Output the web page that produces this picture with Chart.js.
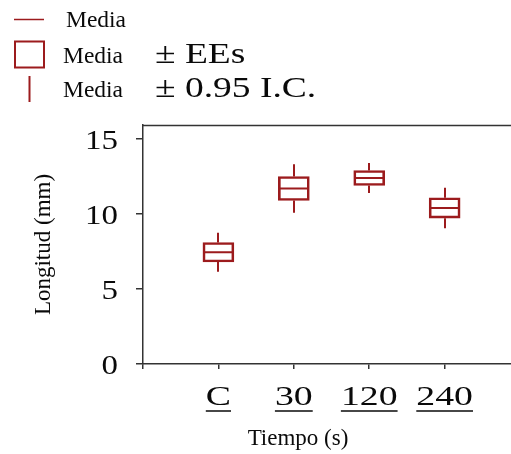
<!DOCTYPE html>
<html>
<head>
<meta charset="utf-8">
<script src="https://cdn.jsdelivr.net/npm/chart.js@4.4.1/dist/chart.umd.min.js"></script>
<style>
  html, body { margin: 0; padding: 0; background: #fff; }
  canvas { display: block; }
</style>
</head>
<body>
<canvas id="chart" width="511" height="454"></canvas>
<script>
const categories = ["C", "30", "120", "240"]
const medias = [7.45, 11.7, 12.4, 10.4]
const errEstandar = [0.65, 0.8, 0.5, 0.68]
const intConfianza = [1.3, 1.62, 1.0, 1.35]
const yTicks = [0, 5, 10, 15]

const ROJO = "#9c1b1d"
const TINTA = "#0a0a0a"
const EJE = "#333333"
const SERIF = "'Liberation Serif', 'Times New Roman', serif"

// text drawn a little wider than the font, like the original figure
function stretchedText(ctx, text, x, y, size, sx, align) {
  ctx.save()
  ctx.font = size + "px " + SERIF
  ctx.textBaseline = "alphabetic"
  const w = ctx.measureText(text).width * sx
  let left = x
  if (align === "center") left = x - w / 2
  if (align === "right") left = x - w
  ctx.translate(left, y)
  ctx.scale(sx, 1)
  ctx.textAlign = "left"
  ctx.fillText(text, 0, 0)
  ctx.restore()
  return { left: left, width: w }
}

const boxPlugin = {
  id: "boxExtras",
  afterDatasetsDraw(chart) {
    const ctx = chart.ctx
    const x = chart.scales.x
    const y = chart.scales.y
    const half = 31 / 2

    ctx.save()
    ctx.strokeStyle = ROJO
    ctx.lineWidth = 2
    categories.forEach((c, i) => {
      const px = Math.round(x.getPixelForValue(i + 1))
      const m = medias[i], ee = errEstandar[i], ic = intConfianza[i]
      ctx.beginPath()
      // whiskers: mean +/- 0.95 CI
      ctx.moveTo(px, y.getPixelForValue(m + ic))
      ctx.lineTo(px, y.getPixelForValue(m + ee))
      ctx.moveTo(px, y.getPixelForValue(m - ee))
      ctx.lineTo(px, y.getPixelForValue(m - ic))
      // mean line inside the box
      const my = y.getPixelForValue(m)
      ctx.moveTo(px - half + 1, my)
      ctx.lineTo(px + half - 1, my)
      ctx.stroke()
    })
    ctx.restore()
  },
  afterDraw(chart) {
    const ctx = chart.ctx
    const area = chart.chartArea
    const x = chart.scales.x
    const y = chart.scales.y

    // top frame line
    ctx.save()
    ctx.strokeStyle = EJE
    ctx.lineWidth = 1.5
    ctx.beginPath()
    ctx.moveTo(area.left, area.top + 0.5)
    ctx.lineTo(area.right, area.top + 0.5)
    ctx.stroke()

    ctx.fillStyle = TINTA

    // y tick labels
    y.ticks.forEach(t => {
      const py = y.getPixelForValue(t.value)
      stretchedText(ctx, String(t.value), 118, py + 10, 27, 1.22, "right")
    })

    // x tick labels, underlined
    ctx.strokeStyle = TINTA
    ctx.lineWidth = 1.5
    x.ticks.forEach(t => {
      const label = categories[t.value - 1]
      if (!label) return
      const px = x.getPixelForValue(t.value)
      const r = stretchedText(ctx, label, px, 405, 28, 1.35, "center")
      ctx.beginPath()
      ctx.moveTo(r.left, 411)
      ctx.lineTo(r.left + r.width, 411)
      ctx.stroke()
    })

    // x axis title
    ctx.font = "23px " + SERIF
    ctx.textAlign = "center"
    ctx.textBaseline = "alphabetic"
    ctx.fillText("Tiempo (s)", 298, 445)

    // legend
    ctx.strokeStyle = ROJO
    ctx.lineWidth = 1.5
    ctx.beginPath()
    ctx.moveTo(14, 19.5)
    ctx.lineTo(44, 19.5)
    ctx.stroke()
    ctx.lineWidth = 2
    ctx.strokeRect(15, 41.5, 29, 26)
    ctx.beginPath()
    ctx.moveTo(29.5, 76)
    ctx.lineTo(29.5, 102)
    ctx.stroke()

    ctx.textAlign = "left"
    ctx.font = "23.5px " + SERIF
    ctx.fillText("Media", 66, 27)
    ctx.fillText("Media", 63, 63)
    ctx.fillText("Media", 63, 97)
    stretchedText(ctx, "\u00b1 EEs", 155, 63, 30, 1.25, "left")
    stretchedText(ctx, "\u00b1 0.95 I.C.", 155, 97, 30, 1.25, "left")
    ctx.restore()
  }
}

new Chart(document.getElementById("chart"), {
  type: "bar",
  data: {
    datasets: [{
      label: "Media \u00b1 EEs",
      data: categories.map((c, i) => ({
        x: i + 1,
        y: [medias[i] - errEstandar[i], medias[i] + errEstandar[i]]
      })),
      backgroundColor: "rgba(255,255,255,0)",
      borderColor: ROJO,
      borderWidth: 2,
      borderSkipped: false,
      barThickness: 31
    }]
  },
  options: {
    responsive: false,
    animation: false,
    layout: { padding: { top: 125, right: 0, bottom: 0, left: 0 } },
    plugins: {
      legend: { display: false },
      tooltip: { enabled: false }
    },
    scales: {
      x: {
        type: "linear",
        min: 0,
        max: 4.88,
        offset: false,
        afterBuildTicks: s => { s.ticks = [0, 1, 2, 3, 4].map(v => ({ value: v })) },
        afterFit: s => { s.height = 90 },
        ticks: { display: false },
        grid: { offset: false, drawOnChartArea: false, drawTicks: true, tickLength: 5, color: EJE, lineWidth: 1.5 },
        border: { display: true, color: EJE, width: 1.5 }
      },
      y: {
        min: 0,
        max: 15.93,
        afterBuildTicks: s => { s.ticks = yTicks.map(v => ({ value: v })) },
        afterFit: s => { s.width = 143 },
        ticks: { display: false },
        grid: { drawOnChartArea: false, drawTicks: true, tickLength: 7, color: EJE, lineWidth: 1.5 },
        border: { display: true, color: EJE, width: 1.5 },
        title: {
          display: true,
          text: "Longitud (mm)",
          color: TINTA,
          font: { family: SERIF, size: 23 },
          padding: { top: 30, bottom: 0 }
        }
      }
    }
  },
  plugins: [boxPlugin]
})
</script>
</body>
</html>
